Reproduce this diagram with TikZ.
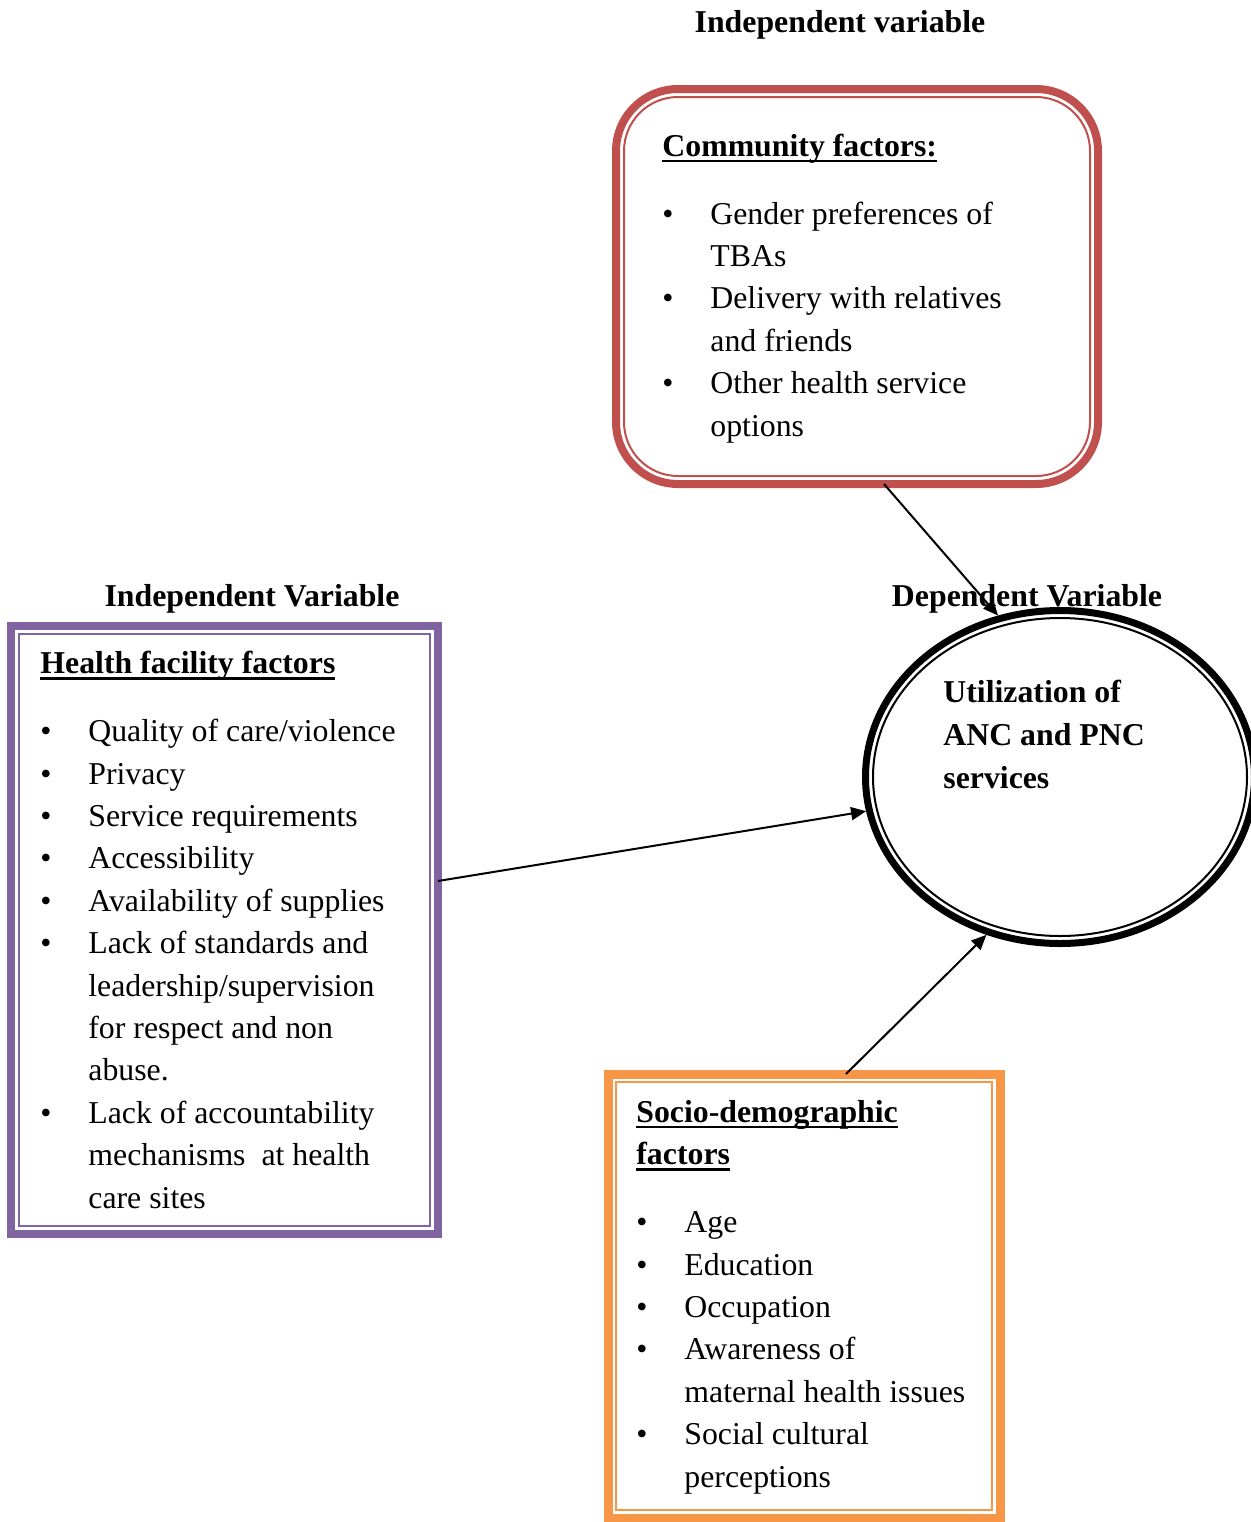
\documentclass[tikz,border=0pt]{standalone}
\usepackage{fontspec}
\setmainfont{Liberation Serif}
\usetikzlibrary{shapes.geometric,arrows.meta}
\definecolor{commred}{RGB}{192,80,77}
\definecolor{facpurple}{RGB}{128,100,162}
\definecolor{socorange}{RGB}{247,150,70}
\newcommand{\ulhead}[1]{\setbox0\hbox{\textbf{#1}}\rlap{\rule[-3pt]{\wd0}{1.2pt}}\box0}
\begin{document}
\begin{tikzpicture}[x=0.5pt,y=-0.5pt,
  head/.style={font=\bfseries\fontsize{15.9}{21.5}\selectfont,inner sep=0pt,align=left},
  body/.style={font=\fontsize{15.9}{21.2}\selectfont,inner sep=0pt,align=left,anchor=base west},
  framebox/.style={draw=#1,inner sep=0pt,outer sep=0pt},
  arr/.style={-{Triangle[length=7.5pt,width=6.5pt]},line width=1pt}]
\useasboundingbox (0,0) rectangle (1250,1522);
\node[head,anchor=base] (headcomm) at (840,32) {Independent variable};
\node[head,anchor=base] (headfac) at (252,606) {Independent Variable};
\node[head,anchor=base] (headutil) at (1027,606) {Dependent Variable};
\node[framebox=commred,line width=4pt,rounded corners=31pt,minimum width=241pt,minimum height=197.5pt] (comm) at (857,286.5) {};
\draw[commred,line width=1pt,rounded corners=27pt] ([shift={(8,8)}]comm.north west) rectangle ([shift={(-8,-8)}]comm.south east);
\node[framebox=facpurple,line width=4pt,minimum width=213.5pt,minimum height=304pt] (fac) at (224.5,930) {};
\draw[facpurple,line width=1pt] ([shift={(8,8)}]fac.north west) rectangle ([shift={(-8,-8)}]fac.south east);
\node[framebox=socorange,line width=4.5pt,minimum width=196pt,minimum height=222pt] (soc) at (804,1296) {};
\draw[socorange,line width=1pt] ([shift={(8,8)}]soc.north west) rectangle ([shift={(-8,-8)}]soc.south east);
\node[ellipse,draw,line width=3.5pt,inner sep=0pt,minimum width=194.5pt,minimum height=166.5pt] (util) at (1060,777) {};
\draw[line width=1pt] (util.center) ellipse [x radius=93.5pt,y radius=79.5pt];
\node[body] (commtext) at (662,436) {\ulhead{Community factors:}\\[12.8pt]
\makebox[24pt][l]{\textbullet}Gender preferences of\\
\hspace*{24pt}TBAs\\
\makebox[24pt][l]{\textbullet}Delivery with relatives\\
\hspace*{24pt}and friends\\
\makebox[24pt][l]{\textbullet}Other health service\\
\hspace*{24pt}options};
\node[body] (factext) at (40,1208) {\ulhead{Health facility factors}\\[12.8pt]
\makebox[24pt][l]{\textbullet}Quality of care/violence\\
\makebox[24pt][l]{\textbullet}Privacy\\
\makebox[24pt][l]{\textbullet}Service requirements\\
\makebox[24pt][l]{\textbullet}Accessibility\\
\makebox[24pt][l]{\textbullet}Availability of supplies\\
\makebox[24pt][l]{\textbullet}Lack of standards and\\
\hspace*{24pt}leadership/supervision\\
\hspace*{24pt}for respect and non\\
\hspace*{24pt}abuse.\\
\makebox[24pt][l]{\textbullet}Lack of accountability\\
\hspace*{24pt}mechanisms\ \ at health\\
\hspace*{24pt}care sites};
\node[body] (soctext) at (636,1487) {\ulhead{Socio-demographic}\\
\ulhead{factors}\\[12.8pt]
\makebox[24pt][l]{\textbullet}Age\\
\makebox[24pt][l]{\textbullet}Education\\
\makebox[24pt][l]{\textbullet}Occupation\\
\makebox[24pt][l]{\textbullet}Awareness of\\
\hspace*{24pt}maternal health issues\\
\makebox[24pt][l]{\textbullet}Social cultural\\
\hspace*{24pt}perceptions};
\node[head,anchor=base west] (utiltext) at (943,788) {Utilization of\\ANC and PNC\\services};
\draw[arr] ([xshift=13.5pt]comm.south) -- (util.111);
\draw[arr] ([yshift=24.5pt]fac.east) -- (util.190);
\draw[arr] ([xshift=21pt]soc.north) -- (util.245);
\end{tikzpicture}
\end{document}
